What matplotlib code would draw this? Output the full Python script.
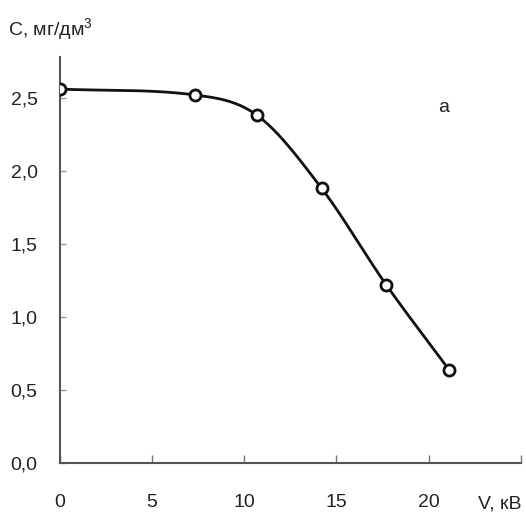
import numpy as np
import matplotlib
matplotlib.use("Agg")
import matplotlib.pyplot as plt
from matplotlib import font_manager

voltage = [0.0, 7.3, 10.7, 14.2, 17.7, 21.1]
concentration = [2.56, 2.52, 2.38, 1.88, 1.22, 0.64]
x_ticks = [0, 5, 10, 15, 20]
y_ticks = [0.0, 0.5, 1.0, 1.5, 2.0, 2.5]
x_label = "V, кВ"
y_label = "С, мг/дм$^3$"
panel_label = "а"

names = {f.name for f in font_manager.fontManager.ttflist}
fam = "Liberation Sans Narrow" if "Liberation Sans Narrow" in names else "Liberation Sans"
plt.rcParams["font.family"] = [fam, "DejaVu Sans"]
plt.rcParams["mathtext.fontset"] = "custom"
plt.rcParams["mathtext.rm"] = fam


def smooth(x, y, xs):
    x = np.asarray(x, float); y = np.asarray(y, float)
    n = len(x); h = np.diff(x); d = np.diff(y) / h
    m = np.zeros(n)
    for k in range(1, n - 1):
        m[k] = (y[k + 1] - y[k - 1]) / (x[k + 1] - x[k - 1])
    m[0] = d[0]; m[-1] = d[-1]
    out = np.empty_like(xs)
    for i, xv in enumerate(xs):
        k = min(max(np.searchsorted(x, xv) - 1, 0), n - 2)
        t = (xv - x[k]) / h[k]
        h00 = 2*t**3 - 3*t**2 + 1; h10 = t**3 - 2*t**2 + t
        h01 = -2*t**3 + 3*t**2; h11 = t**3 - t**2
        out[i] = h00*y[k] + h10*h[k]*m[k] + h01*y[k+1] + h11*h[k]*m[k+1]
    return out


fig = plt.figure(figsize=(5.26, 5.13), dpi=100)
ax = fig.add_axes([0.114, 0.0975, 0.876, 0.7915])
xs = np.linspace(voltage[0], voltage[-1], 400)
ax.plot(xs, smooth(voltage, concentration, xs), color="#111111", lw=2.0, zorder=2)
ax.plot(voltage, concentration, "o", ms=8, mfc="white", mec="#111111", mew=2.0, zorder=3)

ax.set_xlim(0, 25)
ax.set_ylim(0, 2.78)
ax.set_xticks(x_ticks + [25])
ax.set_xticklabels([str(v) for v in x_ticks] + [""])
ax.set_yticks(y_ticks)
ax.set_yticklabels([f"{v:.1f}".replace(".", ",") for v in y_ticks])
for s in ["top", "right"]:
    ax.spines[s].set_visible(False)
for s in ["left", "bottom"]:
    ax.spines[s].set_color("#555555")
    ax.spines[s].set_linewidth(1.5)
ax.tick_params(axis="x", direction="in", length=6, width=1, color="#777777",
               labelsize=14, pad=22, labelcolor="#222222")
ax.tick_params(axis="y", direction="in", length=4, width=1, color="#999999",
               labelsize=14, pad=16, labelcolor="#222222")

fig.text(8/526, 1 - 30/513, y_label, fontsize=14, color="#222222", va="center", ha="left")
fig.text(521/526, 1 - 504/513, x_label, fontsize=14, color="#222222", va="center", ha="right")
fig.text(444/526, 1 - 108/513, panel_label, fontsize=14, color="#222222", va="center", ha="center")

fig.savefig("out.png", dpi=100)
